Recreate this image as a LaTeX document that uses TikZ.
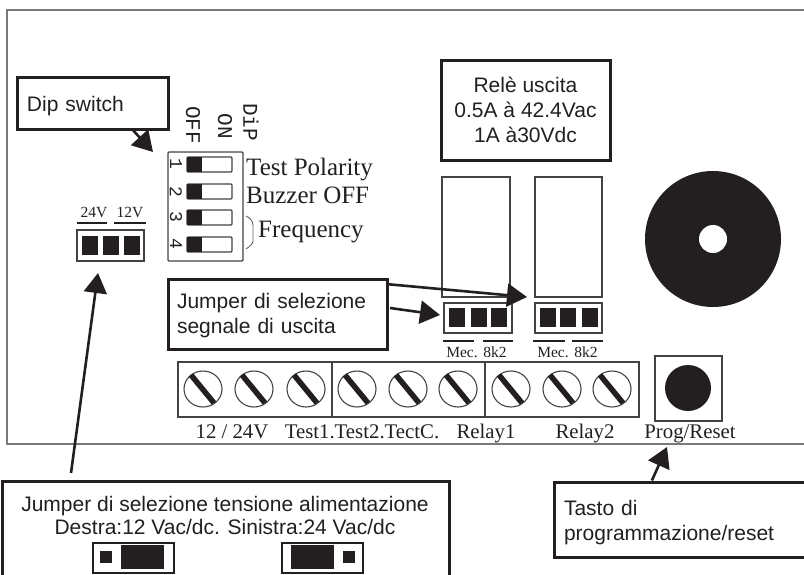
\documentclass[tikz,border=0pt]{standalone}
\usepackage{fontspec}
\setmainfont{Liberation Sans}
\newfontfamily\boardfont{Liberation Serif}
\newfontfamily\dipfont{Liberation Mono}
\usetikzlibrary{arrows.meta}
\definecolor{ink}{HTML}{231F20}
\tikzset{
  note/.style={draw=ink, line width=3pt, text=ink, inner sep=0pt, align=left, font=\fontsize{21}{25}\selectfont},
  thinline/.style={draw=ink!85, line width=1.1pt},
  arrowline/.style={draw=ink, line width=2.6pt, -{Triangle[length=20pt, width=23pt]}},
  bar/.style={draw=ink, line width=2.8pt},
  silk/.style={text=ink, inner sep=0pt, anchor=base, font=\boardfont\fontsize{15.5}{15.5}\selectfont},
  label/.style={text=ink, inner sep=0pt, anchor=base, font=\boardfont\fontsize{20.8}{21}\selectfont},
  biglabel/.style={text=ink, inner sep=0pt, anchor=base west, font=\boardfont\fontsize{25}{25}\selectfont},
  dipmark/.style={text=ink, inner sep=0pt, rotate=-90, font=\dipfont\fontsize{21}{21}\selectfont},
}
\begin{document}
\begin{tikzpicture}[x=1pt, y=-1pt]
      \clip (0, 0) rectangle (804, 574);
      \draw[draw=ink!60, line width=1.5pt] (810, 10) -- (7, 10) -- (7, 444) -- (810, 444);

      \draw[thinline, rounded corners=1pt] (168, 152) rectangle (243, 261);
      \foreach \i/\y in {1/157, 2/184, 3/210, 4/237} {
        \draw[thinline, rounded corners=1pt] (187, \y) rectangle (232, \y+15);
        \fill[ink] (187, \y) rectangle (202, \y+15);
      }
      \foreach \i/\y in {1/164, 2/192, 3/217, 4/244}
        \node (dipnum\i) [dipmark, font=\dipfont\fontsize{18}{18}\selectfont] at (176, \y) {\i};
      \node (dipoff) [dipmark] at (193, 125) {OFF};
      \node (dipon) [dipmark] at (225, 126) {ON};
      \node (dipname) [dipmark] at (251, 122) {DiP};
      \node (dipone) [biglabel] at (246, 175) {Test Polarity};
      \node (diptwo) [biglabel] at (246, 203) {Buzzer OFF};
      \node (dipfreq) [biglabel] at (258, 237) {Frequency};
      \draw[draw=ink!70, line width=0.9pt] (246, 216) .. controls (250, 218) and (253, 221) .. (253, 225) -- (253, 241) .. controls (253, 244) and (250, 246) .. (246, 249);

      \draw[thinline] (77, 230) rectangle (144, 261);
      \foreach \x in {82, 103, 124}
        \fill[ink] (\x, 236) rectangle (\x+15.5, 255);
      \draw[bar] (77, 223) -- (107, 223) (114, 223) -- (146, 223);
      \node (volt24) [silk] at (94, 217) {24V};
      \node (volt12) [silk] at (130, 217) {12V};

      \draw[thinline] (442, 177) rectangle (510, 297);
      \draw[thinline] (535, 177) rectangle (602, 297);
      \draw[thinline] (444, 303) rectangle (512, 333);
      \draw[thinline] (535, 303) rectangle (602, 333);
      \foreach \x in {449, 471, 491, 540, 560, 582}
        \fill[ink] (\x, 308) rectangle (\x+15.5, 327);
      \draw[bar] (443, 341) -- (474, 341) (483, 341) -- (513, 341) (533, 341) -- (565, 341) (572, 341) -- (603, 341);
      \node (mecone) [silk] at (462, 357) {Mec.};
      \node (kone) [silk] at (495, 357) {8k2};
      \node (mectwo) [silk] at (553, 357) {Mec.};
      \node (ktwo) [silk] at (586, 357) {8k2};

      \fill[ink] (713, 239) circle (68);
      \fill[white] (713, 239) circle (14);

      \draw[thinline] (178, 362) rectangle (639, 417) (332, 362) -- (332, 417) (485, 362) -- (485, 417);
      \foreach \x in {203, 254, 306, 357, 408, 458, 511, 562, 612} {
        \draw[thinline] (\x, 389) ellipse (19 and 18);
        \draw[draw=ink, line width=5.5pt] (\x-12, 375) -- (\x+11, 403);
      }
      \draw[thinline] (655, 356) rectangle (722, 421);
      \fill[ink] (688, 388) circle (23);

      \node (tensione) [label] at (232, 438) {12 / 24V};
      \node (tests) [label] at (362, 438) {Test1.Test2.TectC.};
      \node (relayone) [label] at (486, 438) {Relay1};
      \node (relaytwo) [label] at (585, 438) {Relay2};
      \node (progreset) [label] at (690, 438) {Prog/Reset};

      \node (dipnote) [note, minimum width=151pt, minimum height=52pt, text width=131pt] at (92.5, 103) {\rule{0pt}{21pt}Dip switch};
      \node (relenote) [note, minimum width=169pt, minimum height=100pt, align=center] at (525.5, 110) {Relè uscita\\0.5A à 42.4Vac\\1A à30Vdc};
      \node (jumpnote) [note, minimum width=219pt, minimum height=70pt, text width=201pt] at (277.5, 314) {\rule{0pt}{19pt}Jumper di selezione\\segnale di uscita};
      \node (tastonote) [note, minimum width=266pt, minimum height=75pt, text width=246pt] at (687, 519.5) {\rule{0pt}{21pt}Tasto di\\programmazione/reset};
      \node (alimbox) [note, minimum width=447pt, minimum height=109pt] at (225.5, 535.5) {};
      \node (alimtext) [text=ink, inner sep=0pt, align=center, font=\fontsize{21}{23}\selectfont] at (225, 515.5) {Jumper di selezione tensione alimentazione\\Destra:12 Vac/dc. Sinistra:24 Vac/dc};

      \foreach \x/\s/\b in {93/100/121, 282/343/291} {
        \draw[draw=ink, line width=2.6pt] (\x, 543) rectangle (\x+81, 573);
        \fill[ink] (\s, 551) rectangle (\s+12, 563);
        \fill[ink] (\b, 545) rectangle (\b+43, 569);
      }

      \coordinate (diptip) at (153, 152);
      \coordinate (voltend) at (71, 473);
      \coordinate (volttip) at (98, 273);
      \coordinate (jumpend) at (390, 308);
      \coordinate (jumptip) at (440, 315);
      \coordinate (relaytip) at (527, 297);
      \coordinate (progtip) at (667, 447);
      \draw[arrowline] (dipnote.-34.7) -- (diptip);
      \draw[arrowline] (voltend) -- (volttip);
      \draw[arrowline] (jumpend) -- (jumptip);
      \draw[arrowline] (jumpnote.15.8) -- (relaytip);
      \draw[arrowline] (tastonote.132.2) -- (progtip);
\end{tikzpicture}
\end{document}
